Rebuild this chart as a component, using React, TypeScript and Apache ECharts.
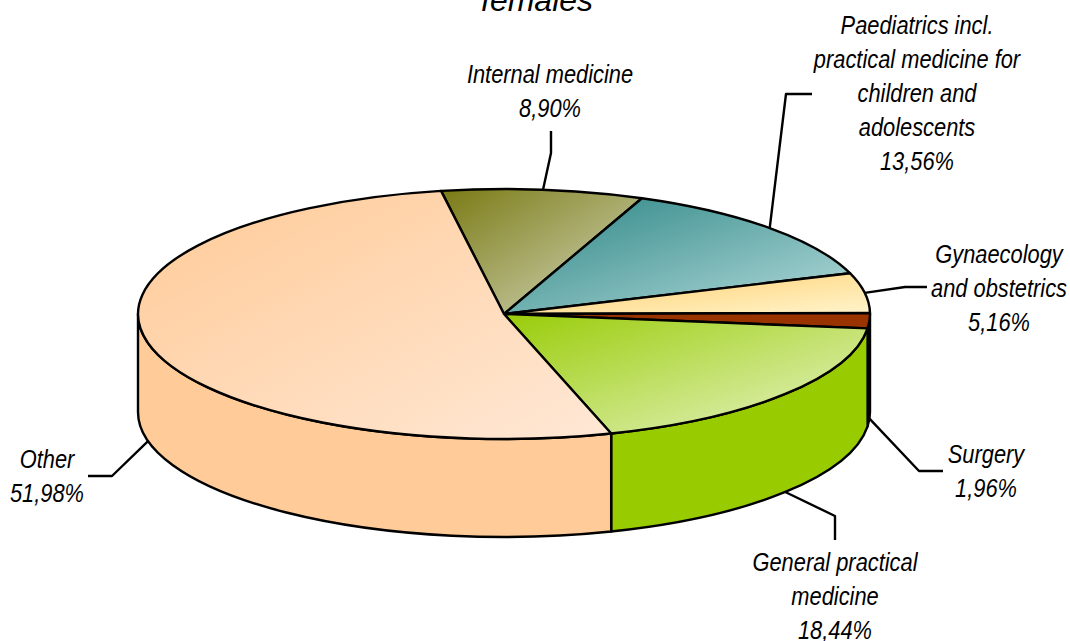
import React, { useEffect, useRef } from "react";
import * as echarts from "echarts";

const categories = ["Internal medicine", "Paediatrics incl. practical medicine for children and adolescents", "Gynaecology and obstetrics", "Surgery", "General practical medicine", "Other"];
const shares = [8.9, 13.56, 5.16, 1.96, 18.44, 51.98];
const labelLines = [
  ["Internal medicine"],
  ["Paediatrics incl.", "practical medicine for", "children and", "adolescents"],
  ["Gynaecology", "and obstetrics"],
  ["Surgery"],
  ["General practical", "medicine"],
  ["Other"],
];
const wallColors = ["#808020", "#338080", "#ffcc66", "#993300", "#99cc00", "#ffcc99"];
const topStops = [
  ["#7a7a14", "#d6dac0"],
  ["#2a8484", "#b6dcdc"],
  ["#ffcc66", "#fff4cc"],
  ["#993300", "#993300"],
  ["#99cc08", "#e8f4c8"],
  ["#ffca96", "#ffe8d6"],
];
const labelCenters = [
  [550, 91],
  [917, 93],
  [999, 288],
  [986, 471],
  [835, 596],
  [47, 476],
];
const leaderElbows = [
  [[551, 153], [551, 131]],
  [[786, 94], [812, 94]],
  [[905, 287], [927, 287]],
  [[919, 471], [943, 471]],
  [[835, 516], [835, 540]],
  [[112, 476], [88, 476]],
];

const CX = 504, CY = 314, RX = 366, RY = 125, DEPTH = 98, START = -9.9;
const FONT = '"Liberation Sans", Arial, sans-serif';

const total = shares.reduce((a, b) => a + b, 0);
const angleBefore = (i: number) =>
  START + (shares.slice(0, i).reduce((a, b) => a + b, 0) / total) * 360;
const pt = (deg: number, dy = 0): [number, number] => {
  const r = (deg * Math.PI) / 180;
  return [CX + RX * Math.sin(r), CY + dy - RY * Math.cos(r)];
};
const f = (n: number) => n.toFixed(2);
const arc = (to: [number, number], large: boolean, sweep: number) =>
  `A${RX} ${RY} 0 ${large ? 1 : 0} ${sweep} ${f(to[0])} ${f(to[1])}`;

const topPath = (a: number, b: number) => {
  const p0 = pt(a), p1 = pt(b);
  return `M${CX} ${CY}L${f(p0[0])} ${f(p0[1])}${arc(p1, b - a > 180, 1)}Z`;
};
const wallPath = (a: number, b: number) => {
  const p0 = pt(a), p1 = pt(b), q1 = pt(b, DEPTH), q0 = pt(a, DEPTH);
  return `M${f(p0[0])} ${f(p0[1])}${arc(p1, false, 1)}L${f(q1[0])} ${f(q1[1])}${arc(q0, false, 0)}Z`;
};

const data = shares.map((v) => [v]);

export default function App() {
  const ref = useRef<HTMLDivElement>(null);
  useEffect(() => {
    document.body.style.margin = "0";
    const chart = echarts.init(ref.current!, undefined, { renderer: "svg" });
    const stroke = { stroke: "#000", lineWidth: 2.4, lineJoin: "round" };
    chart.setOption({
      animation: false,
      backgroundColor: "#fff",
      graphic: [
        {
          type: "text",
          x: 537,
          y: 16,
          style: {
            text: "females",
            font: `italic 32px ${FONT}`,
            fill: "#000",
            align: "center",
            verticalAlign: "bottom",
          },
        },
      ],
      series: [
        {
          type: "custom",
          coordinateSystem: "none",
          silent: true,
          clip: false,
          data,
          renderItem: (params: any) => {
            const i = params.dataIndex;
            const a = Math.max(angleBefore(i), 90);
            const b = Math.min(angleBefore(i + 1), 270);
            if (b <= a) return { type: "group", children: [] };
            return {
              type: "path",
              shape: { pathData: wallPath(a, b) },
              style: { fill: wallColors[i], ...stroke },
            };
          },
        },
        {
          type: "custom",
          coordinateSystem: "none",
          silent: true,
          clip: false,
          data,
          renderItem: (params: any) => {
            const i = params.dataIndex;
            const [c0, c1] = topStops[i];
            return {
              type: "path",
              shape: { pathData: topPath(angleBefore(i), angleBefore(i + 1)) },
              style: {
                fill: new echarts.graphic.LinearGradient(0, 0, 1, 1, [
                  { offset: 0, color: c0 },
                  { offset: 1, color: c1 },
                ]),
                ...stroke,
              },
            };
          },
        },
        {
          type: "custom",
          coordinateSystem: "none",
          silent: true,
          clip: false,
          data,
          renderItem: (params: any, api: any) => {
            const i = params.dataIndex;
            const mid = (angleBefore(i) + angleBefore(i + 1)) / 2;
            const anchor = pt(mid, mid > 90 ? DEPTH : 0);
            const text = [...labelLines[i], api.value(0).toFixed(2).replace(".", ",") + "%"].join("\n");
            return {
              type: "group",
              children: [
                {
                  type: "polyline",
                  shape: { points: [anchor, ...leaderElbows[i]] },
                  style: { fill: "none", ...stroke },
                },
                {
                  type: "text",
                  x: labelCenters[i][0],
                  y: labelCenters[i][1],
                  scaleX: 0.84,
                  style: {
                    text,
                    font: `italic 26px ${FONT}`,
                    lineHeight: 34,
                    fill: "#000",
                    align: "center",
                    verticalAlign: "middle",
                  },
                },
              ],
            };
          },
        },
      ],
    });
    return () => chart.dispose();
  }, []);
  return (
    <div
      ref={ref}
      aria-label={categories.join(", ")}
      style={{ position: "absolute", left: 0, top: 0, width: 1070, height: 641 }}
    />
  );
}
